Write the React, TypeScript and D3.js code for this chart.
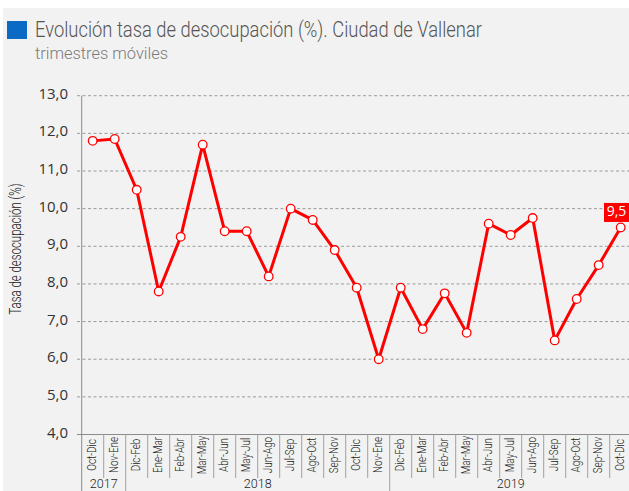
import React from "react";
import * as d3 from "d3";

const categories = [
  "Oct-Dic", "Nov-Ene",
  "Dic-Feb", "Ene-Mar", "Feb-Abr", "Mar-May", "Abr-Jun", "May-Jul", "Jun-Ago", "Jul-Sep", "Ago-Oct", "Sep-Nov", "Oct-Dic", "Nov-Ene",
  "Dic-Feb", "Ene-Mar", "Feb-Abr", "Mar-May", "Abr-Jun", "May-Jul", "Jun-Ago", "Jul-Sep", "Ago-Oct", "Sep-Nov", "Oct-Dic",
];
const values = [
  11.8, 11.85,
  10.5, 7.8, 9.25, 11.7, 9.4, 9.4, 8.2, 10.0, 9.7, 8.9, 7.9, 6.0,
  7.9, 6.8, 7.75, 6.7, 9.6, 9.3, 9.75, 6.5, 7.6, 8.5, 9.5,
];
const years = ["2017", "2018", "2019"];
const yearCounts = [2, 12, 11];
const yTicks = [4, 5, 6, 7, 8, 9, 10, 11, 12, 13];

const W = 629;
const H = 491;
const left = 81.7;
const band = 22;

export default function App() {
  const x = d3
    .scaleBand<number>()
    .domain(d3.range(categories.length))
    .range([left, left + band * categories.length])
    .padding(0);
  const y = d3.scaleLinear().domain([4, 13]).range([434.5, 95.7]);
  const cx = (i: number) => (x(i) as number) + x.bandwidth() / 2;
  const line = d3
    .line<number>()
    .x((_, i) => cx(i))
    .y((d) => y(d));

  const bounds: number[] = [0];
  yearCounts.forEach((c) => bounds.push(bounds[bounds.length - 1] + c));

  const last = values.length - 1;
  const lastY = y(values[last]);

  const cond = "Roboto, 'Noto Sans', sans-serif";

  return (
    <div style={{ position: "absolute", left: 0, top: 0 }}>
      <svg width={W} height={H} style={{ display: "block" }}>
        <rect x={0} y={0} width={W} height={H} fill="#ffffff" />
        <rect x={3} y={8} width={W - 3} height={H - 8} fill="#f2f2f2" />
        {/* title */}
        <rect x={7} y={21} width={20} height={18} fill="#0a6ac4" />
        <text x={35} y={37} fontFamily={cond} fontSize={21.5} fontWeight={300} fill="#555" textLength={447} lengthAdjust="spacingAndGlyphs">
          Evolución tasa de desocupación (%). Ciudad de Vallenar
        </text>
        <text x={35} y={59} fontFamily={cond} fontSize={16} fontWeight={300} fill="#7a7a7a" textLength={133} lengthAdjust="spacingAndGlyphs">
          trimestres móviles
        </text>
        {/* gridlines */}
        {yTicks.map((t) => (
          <g key={t}>
            {t > 4 && (
              <line x1={77} x2={W} y1={y(t)} y2={y(t)} stroke="#9a9a9a" strokeWidth={1} strokeDasharray="3,2.5" />
            )}
            {t === 4 && <line x1={77} x2={W} y1={y(t)} y2={y(t)} stroke="#8c8c8c" strokeWidth={1} />}
            <text x={68} y={y(t) - 1} textAnchor="end" dominantBaseline="middle" fontFamily="'Open Sans', sans-serif" fontSize={15} fill="#333">
              {d3.format(".1f")(t).replace(".", ",")}
            </text>
          </g>
        ))}
        {/* y axis */}
        <line x1={left} x2={left} y1={y(13)} y2={H} stroke="#8c8c8c" strokeWidth={1} />
        <text
          transform={`translate(17,${(y(13) + y(4)) / 2 - 16}) rotate(-90)`}
          textAnchor="middle"
          dominantBaseline="middle"
          fontFamily={cond}
          fontSize={17}
          fontWeight={300}
          fill="#222"
          textLength={131}
          lengthAdjust="spacingAndGlyphs"
        >
          Tasa de desocupación (%)
        </text>
        {/* category separators */}
        {categories.map((_, i) =>
          i > 0 && !bounds.includes(i) ? (
            <line key={"s" + i} x1={x(i) as number} x2={x(i) as number} y1={y(4)} y2={478} stroke="#a0a0a0" strokeWidth={1} />
          ) : null
        )}
        {bounds.slice(1, -1).map((b) => (
          <line key={"b" + b} x1={x(b) as number} x2={x(b) as number} y1={y(4)} y2={H} stroke="#a0a0a0" strokeWidth={1} />
        ))}
        {/* category labels */}
        {categories.map((c, i) => (
          <text
            key={"c" + i}
            transform={`translate(${cx(i)},455) rotate(-90) scale(0.76,1)`}
            textAnchor="middle"
            dominantBaseline="middle"
            fontFamily={cond}
            fontSize={13}
            fontWeight={300}
            fill="#222"
          >
            {c}
          </text>
        ))}
        {/* year labels */}
        {years.map((yr, k) => {
          const x0 = x(bounds[k]) as number;
          const x1 = left + band * bounds[k + 1];
          return (
            <text key={yr} x={(x0 + x1) / 2} y={485} textAnchor="middle" dominantBaseline="middle" fontFamily={cond} fontSize={12.5} fontWeight={300} fill="#222">
              {yr}
            </text>
          );
        })}
        {/* line */}
        <path d={line(values) as string} fill="none" stroke="#ff0000" strokeWidth={3} strokeLinejoin="round" />
        {values.map((v, i) => (
          <circle key={"p" + i} cx={cx(i)} cy={y(v)} r={4.3} fill="#ffffff" stroke="#ff0000" strokeWidth={1.3} />
        ))}
        {/* last label */}
        <rect x={604} y={lastY - 24.5} width={W - 604} height={19} fill="#ff0000" />
        <text x={616.5} y={lastY - 15} textAnchor="middle" dominantBaseline="middle" fontFamily="'Open Sans', sans-serif" fontSize={14} fill="#ffffff">
          {d3.format(".1f")(values[last]).replace(".", ",")}
        </text>
      </svg>
    </div>
  );
}
